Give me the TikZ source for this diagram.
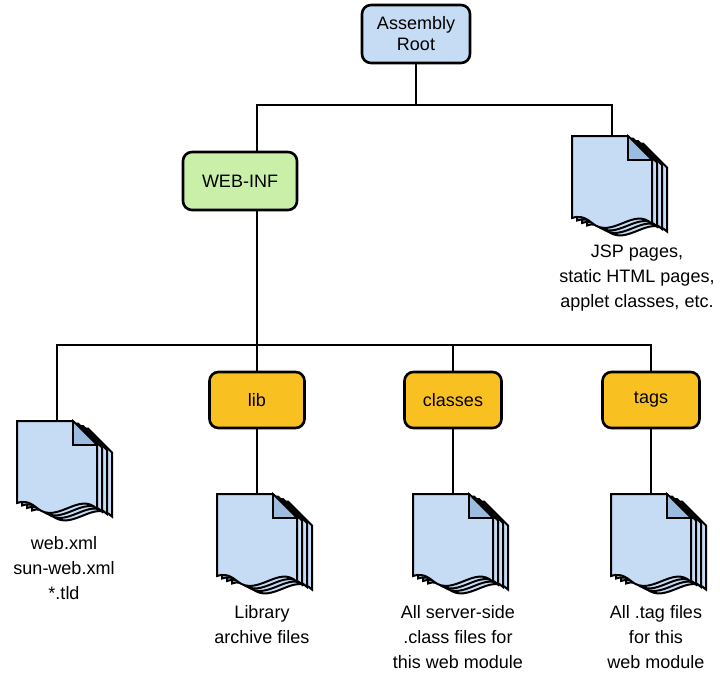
\documentclass[tikz,border=0pt]{standalone}
\usepackage{fontspec}
\setmainfont{Liberation Sans}
\begin{document}
\begin{tikzpicture}[x=1pt,y=-1pt,line width=2.6pt,
  box/.style={draw,rounded corners=9pt,minimum height=58pt,align=center,font=\fontsize{18}{21}\selectfont},
  lbl/.style={align=center,anchor=north,font=\fontsize{18}{25}\selectfont},
  doc/.pic={
    \foreach \o in {15,10,5,0}{
      \begin{scope}[shift={(\o,\o*0.5)}]
      \filldraw[fill=docblue,line width=2pt] (-40,0) -- (16,0) -- (40,24) -- (40,88) .. controls (22,70) and (0,104) .. (-20,87) .. controls (-28,80) and (-35,80) .. (-40,82) -- cycle;
      \end{scope}}
    \filldraw[fill=folded,line width=1.6pt] (16,0) -- (16,24) -- (40,24) -- cycle;
    \coordinate (-top) at (0,0);
  }]
\definecolor{docblue}{HTML}{C6DCF5}
\definecolor{folded}{HTML}{9BBCDF}
\definecolor{rootc}{HTML}{C6DCF5}
\definecolor{webc}{HTML}{C9EFA9}
\definecolor{yel}{HTML}{F9C021}
\useasboundingbox (0,0) rectangle (720,673);
\node[box,fill=rootc,minimum width=108pt] (root) at (416,34) {Assembly\\Root};
\node[box,fill=webc,minimum width=114pt] (web) at (240,181) {WEB-INF};
\node[box,fill=yel,minimum width=95pt,minimum height=56pt] (lib) at (257,400) {lib};
\node[box,fill=yel,minimum width=97pt,minimum height=56pt] (cls) at (453,400) {classes};
\node[box,fill=yel,minimum width=97pt,minimum height=56pt] (tags) at (651,400) {tags};
\pic (jsp) at (612,136) {doc};
\pic (dw) at (57,421) {doc};
\pic (dl) at (257,494) {doc};
\pic (dc) at (453,494) {doc};
\pic (dt) at (651,494) {doc};
\coordinate (j1) at (416,105);
\coordinate (j2) at (257,345);
\draw (root.south) -- (j1);
\draw (j1) -| (web.north -| 257,0);
\draw (j1) -| (jsp-top);
\draw (web.south -| j2) -- (j2);
\draw (j2) -| (dw-top);
\draw (j2) -| (tags.north);
\draw (j2) -- (lib.north);
\draw (j2) -| (cls.north);
\draw (lib.south) -- (dl-top);
\draw (cls.south) -- (dc-top);
\draw (tags.south) -- (dt-top);
\node[lbl] (t1) at (637,240) {JSP pages,\\static HTML pages,\\applet classes, etc.};
\node[lbl] (t2) at (64,532) {web.xml\\sun-web.xml\\*.tld};
\node[lbl] (t3) at (262,601) {Library\\archive files};
\node[lbl] (t4) at (458,601) {All server-side\\.class files for\\this web module};
\node[lbl] (t5) at (656,601) {All .tag files\\for this\\web module};
\end{tikzpicture}
\end{document}
